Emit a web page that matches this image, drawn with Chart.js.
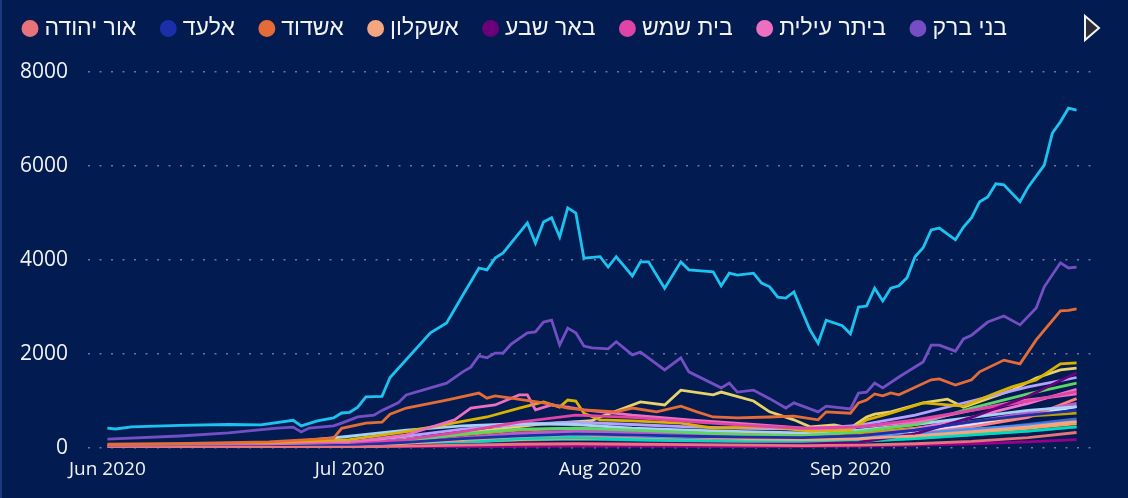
<!DOCTYPE html>
<html lang="he">
<head>
<meta charset="UTF-8">
<title>Cases by city</title>
<script src="https://cdn.jsdelivr.net/npm/chart.js"></script>
<style>
  html, body { margin: 0; padding: 0; background: #021c51; }
  .wrap { position: relative; width: 1128px; height: 498px; }
</style>
</head>
<body>
<div class="wrap"><canvas id="cityChart" width="1128" height="498"></canvas></div>
<script>
// x axis = days since 1 Jun 2020
const tickDays = [0, 30, 61, 92];
const tickLabels = ['Jun 2020', 'Jul 2020', 'Aug 2020', 'Sep 2020'];

// common sampling days for the smaller cities
const gridDays = [0, 10, 20, 30, 37, 44, 51, 58, 65, 72, 79, 86, 93, 100, 107, 114, 120];

const orYehuda   = [10, 12, 15, 20, 40, 60, 80, 90, 80, 70, 60, 50, 60, 90, 140, 220, 330];
const elad       = [20, 25, 30, 60, 120, 200, 260, 300, 280, 250, 230, 220, 260, 380, 560, 700, 800];
const ashkelon   = [30, 35, 40, 60, 100, 180, 250, 300, 280, 240, 200, 180, 200, 260, 350, 450, 560];
const beerSheva  = [15, 18, 20, 30, 50, 70, 90, 100, 100, 90, 80, 80, 120, 300, 650, 1100, 1600];
const beitShemesh = [40, 45, 50, 80, 180, 350, 550, 700, 650, 560, 480, 420, 450, 600, 800, 1000, 1200];
const hadera     = [20, 25, 30, 60, 150, 300, 400, 420, 380, 330, 280, 260, 350, 500, 850, 1150, 1380];
const holon      = [30, 50, 80, 250, 380, 470, 520, 500, 420, 380, 350, 320, 380, 500, 650, 800, 880];
const haifa      = [30, 40, 60, 120, 250, 400, 500, 550, 500, 450, 420, 400, 480, 700, 1000, 1300, 1500];
const tiberias   = [10, 12, 15, 30, 60, 110, 200, 220, 180, 150, 130, 120, 140, 200, 280, 360, 450];
const tayibe     = [20, 25, 30, 50, 100, 180, 260, 300, 260, 220, 200, 190, 220, 300, 400, 480, 560];
const kfarSaba   = [15, 20, 25, 40, 80, 130, 180, 200, 190, 170, 150, 140, 170, 230, 320, 420, 520];
const lod        = [25, 30, 35, 60, 120, 220, 320, 360, 330, 280, 240, 220, 260, 380, 550, 750, 950];
const netanya    = [5, 5, 5, 8, 15, 25, 35, 40, 40, 35, 30, 30, 40, 60, 90, 130, 180];
const petahTikva = [20, 22, 25, 40, 90, 160, 230, 250, 230, 200, 180, 160, 200, 300, 450, 650, 1050];
const rishon     = [30, 32, 35, 50, 100, 180, 280, 320, 300, 260, 230, 210, 250, 400, 650, 950, 1250];
const rehovot    = [10, 12, 15, 30, 70, 120, 170, 190, 170, 150, 130, 120, 140, 200, 280, 360, 450];
const ramla      = [25, 30, 40, 80, 160, 280, 380, 420, 380, 330, 300, 280, 320, 420, 560, 680, 740];
const ramatGan   = [20, 22, 25, 45, 90, 160, 210, 230, 210, 180, 160, 150, 180, 260, 380, 500, 620];
const telAviv    = [15, 18, 20, 35, 70, 130, 190, 210, 200, 180, 170, 160, 200, 320, 500, 700, 880];

// larger cities, read at their turning points
const jerusalemDays = [0, 1, 3, 9, 15, 19, 23, 24, 26, 28, 29, 30, 31, 32, 34, 35, 40, 42, 44, 46, 47, 48, 49, 52, 53, 54, 55, 56, 57, 58, 59, 61, 62, 63, 65, 66, 67, 69, 71, 72, 75, 76, 77, 78, 80, 81, 82, 83, 84, 85, 87, 88, 89, 91, 92, 93, 94, 95, 96, 97, 98, 99, 100, 101, 102, 103, 105, 106, 107, 108, 109, 110, 111, 113, 114, 116, 117, 118, 119, 120];
const jerusalem = [425, 405, 450, 480, 500, 490, 590, 470, 575, 640, 745, 760, 870, 1090, 1100, 1500, 2450, 2660, 3250, 3830, 3790, 4040, 4150, 4790, 4360, 4810, 4900, 4490, 5110, 5000, 4040, 4070, 3850, 4070, 3660, 3960, 3960, 3400, 3960, 3790, 3750, 3450, 3720, 3680, 3720, 3510, 3430, 3210, 3190, 3320, 2510, 2230, 2720, 2600, 2430, 3000, 3020, 3400, 3130, 3400, 3450, 3620, 4070, 4260, 4640, 4680, 4430, 4700, 4900, 5240, 5340, 5620, 5600, 5240, 5550, 6020, 6700, 6940, 7230, 7190];

const bneiBrakDays = [0, 9, 15, 21, 23, 24, 25, 28, 29, 31, 33, 34, 36, 37, 42, 44, 45, 46, 47, 48, 49, 50, 52, 53, 54, 55, 56, 57, 58, 59, 60, 62, 63, 65, 66, 69, 71, 72, 76, 77, 78, 80, 82, 84, 85, 88, 89, 92, 93, 94, 95, 96, 98, 101, 102, 103, 105, 106, 107, 109, 111, 113, 115, 116, 118, 119, 120];
const bneiBrak = [190, 255, 320, 425, 445, 340, 425, 470, 530, 660, 700, 800, 960, 1130, 1380, 1620, 1720, 1960, 1920, 2020, 2020, 2210, 2450, 2470, 2680, 2720, 2190, 2550, 2450, 2170, 2130, 2110, 2260, 1980, 2040, 1660, 1920, 1620, 1280, 1380, 1190, 1230, 1050, 850, 960, 770, 890, 830, 1170, 1190, 1380, 1280, 1510, 1830, 2190, 2190, 2060, 2320, 2400, 2680, 2810, 2620, 2980, 3430, 3940, 3830, 3850];

const ashdodDays = [0, 10, 20, 27, 28, 29, 32, 34, 35, 37, 42, 46, 47, 48, 50, 54, 57, 59, 63, 65, 68, 71, 73, 75, 78, 82, 85, 88, 89, 92, 93, 94, 95, 96, 97, 98, 102, 103, 105, 107, 108, 111, 113, 115, 118, 119, 120];
const ashdod = [80, 100, 130, 200, 210, 420, 530, 550, 720, 850, 1020, 1170, 1060, 1110, 1060, 960, 850, 810, 770, 850, 770, 890, 770, 660, 640, 660, 680, 600, 770, 740, 960, 1020, 1150, 1110, 1170, 1130, 1450, 1470, 1340, 1450, 1620, 1870, 1790, 2300, 2920, 2930, 2960];

const modiinIlitDays = [0, 20, 35, 45, 53, 60, 61, 64, 66, 69, 71, 75, 76, 80, 82, 85, 87, 90, 92, 94, 95, 97, 101, 104, 106, 112, 115, 118, 120];
const modiinIlit = [40, 80, 150, 330, 500, 580, 660, 850, 980, 915, 1230, 1130, 1190, 1000, 770, 600, 450, 490, 425, 660, 720, 770, 960, 1040, 870, 1230, 1490, 1660, 1700];

const batYamDays = [0, 20, 30, 37, 45, 47, 51, 54, 56, 57, 58, 59, 61, 65, 71, 75, 82, 87, 92, 94, 97, 101, 106, 110, 112, 115, 118, 120];
const batYam = [40, 90, 180, 350, 600, 660, 850, 980, 870, 1020, 1000, 740, 600, 575, 530, 425, 450, 360, 380, 600, 740, 960, 890, 1170, 1300, 1450, 1790, 1810];

const beitarDays = [0, 20, 30, 37, 43, 45, 48, 51, 52, 53, 55, 57, 59, 65, 72, 80, 88, 93, 100, 107, 113, 120];
const beitar = [30, 60, 120, 280, 600, 850, 915, 1130, 1130, 810, 915, 870, 810, 700, 600, 500, 400, 450, 550, 800, 1000, 1150];

const FONT = "'Segoe UI', 'Open Sans', 'DejaVu Sans', sans-serif";
const LEGEND_FONT = "'Liberation Sans', 'DejaVu Sans', sans-serif";
const TEXT = '#f2f2f2';

const series = [
    { name: 'אור יהודה', days: gridDays, values: orYehuda, color: '#e8737a' },
    { name: 'אלעד', days: gridDays, values: elad, color: '#1a2fa8' },
    { name: 'אשדוד', days: ashdodDays, values: ashdod, color: '#e66c37', order: -1 },
    { name: 'אשקלון', days: gridDays, values: ashkelon, color: '#f3a67f' },
    { name: 'באר שבע', days: gridDays, values: beerSheva, color: '#6b007b' },
    { name: 'בית שמש', days: gridDays, values: beitShemesh, color: '#e044a7' },
    { name: 'ביתר עילית', days: beitarDays, values: beitar, color: '#ee6fc0' },
    { name: 'בני ברק', days: bneiBrakDays, values: bneiBrak, color: '#744ec2', order: -2 },
    { name: 'בת ים', days: batYamDays, values: batYam, color: '#d9b300' },
    { name: 'חדרה', days: gridDays, values: hadera, color: '#5bd667' },
    { name: 'חולון', days: gridDays, values: holon, color: '#a8d2f5' },
    { name: 'חיפה', days: gridDays, values: haifa, color: '#b5a1ff' },
    { name: 'טבריה', days: gridDays, values: tiberias, color: '#00dbbc' },
    { name: 'טייבה', days: gridDays, values: tayibe, color: '#4092ff' },
    { name: 'ירושלים', days: jerusalemDays, values: jerusalem, color: '#1cc3f0', order: -3 },
    { name: 'כפר סבא', days: gridDays, values: kfarSaba, color: '#ffa058' },
    { name: 'לוד', days: gridDays, values: lod, color: '#be5dc9' },
    { name: 'מודיעין עילית', days: modiinIlitDays, values: modiinIlit, color: '#e8d36a' },
    { name: 'נתניה', days: gridDays, values: netanya, color: '#99008a' },
    { name: 'פתח תקווה', days: gridDays, values: petahTikva, color: '#ff8080' },
    { name: 'ראשון לציון', days: gridDays, values: rishon, color: '#f472d0' },
    { name: 'רחובות', days: gridDays, values: rehovot, color: '#0091d5' },
    { name: 'רמלה', days: gridDays, values: ramla, color: '#c4a200' },
    { name: 'רמת גן', days: gridDays, values: ramatGan, color: '#4668c5' },
    { name: 'תל אביב-יפו', days: gridDays, values: telAviv, color: '#d6e6ff' }
];

const background = {
    id: 'background',
    beforeDraw(chart) {
        const c = chart.ctx;
        c.save();
        c.fillStyle = '#021c51';
        c.fillRect(0, 0, chart.width, chart.height);
        c.fillStyle = '#1d3a80';
        c.fillRect(0, 0, 2, chart.height);
        c.restore();
    }
};

// the "more items" arrow at the end of the legend
const legendArrow = {
    id: 'legendArrow',
    afterDraw(chart) {
        const c = chart.ctx;
        c.save();
        c.beginPath();
        c.moveTo(1085, 16);
        c.lineTo(1099, 28);
        c.lineTo(1085, 40);
        c.closePath();
        c.fillStyle = '#2b2b33';
        c.fill();
        c.lineWidth = 2;
        c.strokeStyle = '#f2f2f2';
        c.stroke();
        c.restore();
    }
};

new Chart(document.getElementById('cityChart'), {
    type: 'line',
    data: {
        datasets: series.map((s) => ({
            label: s.name,
            data: s.days.map((d, k) => ({ x: d, y: s.values[k] })),
            borderColor: s.color,
            backgroundColor: s.color,
            borderWidth: 2.8,
            pointRadius: 0,
            tension: 0,
            order: s.order || 0
        }))
    },
    options: {
        responsive: false,
        animation: false,
        layout: { padding: { left: -2, right: 28, top: -12, bottom: 0 } },
        plugins: {
            legend: {
                position: 'top',
                align: 'start',
                labels: {
                    usePointStyle: true,
                    pointStyle: 'circle',
                    boxWidth: 6,
                    boxHeight: 10,
                    padding: 29,
                    color: TEXT,
                    font: { family: LEGEND_FONT, size: 23 },
                    filter: (item) => item.datasetIndex < 8,
                    sort: (a, b) => a.datasetIndex - b.datasetIndex
                }
            },
            // empty block between legend and plot, keeps the plot top where it belongs
            subtitle: {
                display: true,
                text: ' ',
                weight: 500,
                font: { size: 10 },
                padding: { top: 0, bottom: 10 }
            },
            tooltip: { enabled: false }
        },
        scales: {
            x: {
                type: 'linear',
                min: -2.4,
                max: 122.9,
                afterBuildTicks: (axis) => { axis.ticks = tickDays.map(v => ({ value: v })); },
                afterFit: (axis) => { axis.height = 50; },
                grid: { display: false, drawTicks: false },
                border: { display: false },
                ticks: {
                    color: TEXT,
                    font: { family: FONT, size: 19 },
                    padding: 10,
                    maxRotation: 0,
                    autoSkip: false,
                    callback: (v) => tickLabels[tickDays.indexOf(v)]
                }
            },
            y: {
                min: 0,
                max: 8000,
                afterFit: (axis) => { axis.width = 90; },
                grid: { color: 'rgba(190, 198, 222, 0.55)', lineWidth: 1.5, drawTicks: false },
                border: { display: false, dash: [2, 9.5] },
                ticks: {
                    stepSize: 2000,
                    color: TEXT,
                    font: { family: FONT, size: 21 },
                    padding: 20,
                    callback: (v) => String(v)
                }
            }
        }
    },
    plugins: [background, legendArrow]
});
</script>
</body>
</html>
